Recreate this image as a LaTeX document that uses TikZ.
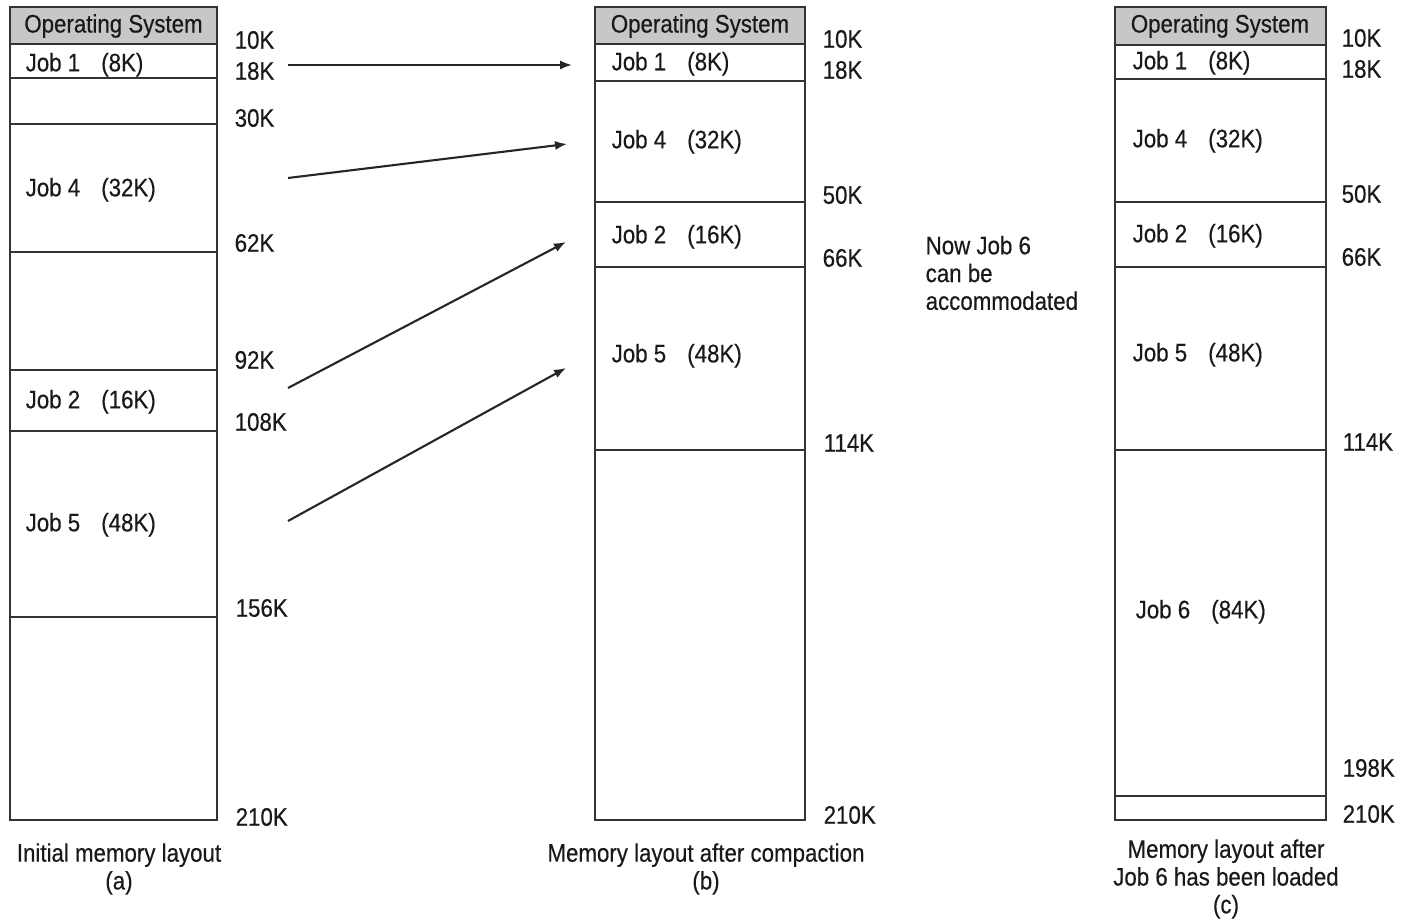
\documentclass[tikz,border=0pt]{standalone}
\usepackage{fontspec}
\setmainfont{Liberation Sans}[FakeStretch=0.88,FakeBold=0.4]
\usetikzlibrary{arrows.meta}
\begin{document}
\begin{tikzpicture}[x=0.01cm,y=-0.01cm,
  font=\fontsize{7.2}{7.9}\selectfont,
  memline/.style={draw=black!80, line width=0.6pt},
  osfill/.style={fill=black!22},
  addr/.style={anchor=west, inner sep=0pt, text=black!90},
  jobtxt/.style={anchor=west, inner sep=0pt, text=black!90, yshift=-0.5pt},
  captext/.style={align=center, inner sep=0pt, text=black!90},
  movearrow/.style={draw=black!85, line width=0.6pt, -{Latex[length=3.4pt,width=2.6pt]}}]
\useasboundingbox (0,0) rectangle (1402,919);
\newcommand{\jb}[2]{Job #1\hspace{6pt}(#2)}
% ---------- panel (a)
\fill[osfill] (10,7) rectangle (217,44);
\draw[memline] (10,7) rectangle (217,820);
\foreach \yy in {44,78,124,252,370,431,617} \draw[memline] (10,\yy) -- (217,\yy);
\node[captext] (aos) at (113.5,26) {Operating System};
\node[jobtxt] (aj1) at (25,63) {\jb{1}{8K}};
\node[jobtxt] (aj4) at (25,188) {\jb{4}{32K}};
\node[jobtxt] (aj2) at (25,400) {\jb{2}{16K}};
\node[jobtxt] (aj5) at (25,523) {\jb{5}{48K}};
\node[addr] (a10) at (234,40) {10K};
\node[addr] (a18) at (234,71) {18K};
\node[addr] (a30) at (234,118) {30K};
\node[addr] (a62) at (234,243) {62K};
\node[addr] (a92) at (234,360) {92K};
\node[addr] (a108) at (234,422) {108K};
\node[addr] (a156) at (235,608) {156K};
\node[addr] (a210) at (235,817) {210K};
\node[captext] (acap) at (119,869) {Initial memory layout\\(a)};
% ---------- panel (b)
\fill[osfill] (595,7) rectangle (805,44);
\draw[memline] (595,7) rectangle (805,820);
\foreach \yy in {44,81,202,267,450} \draw[memline] (595,\yy) -- (805,\yy);
\node[captext] (bos) at (700,26) {Operating System};
\node[jobtxt] (bj1) at (611,62) {\jb{1}{8K}};
\node[jobtxt] (bj4) at (611,140) {\jb{4}{32K}};
\node[jobtxt] (bj2) at (611,235) {\jb{2}{16K}};
\node[jobtxt] (bj5) at (611,354) {\jb{5}{48K}};
\node[addr] (b10) at (822,39) {10K};
\node[addr] (b18) at (822,70) {18K};
\node[addr] (b50) at (822,195) {50K};
\node[addr] (b66) at (822,258) {66K};
\node[addr] (b114) at (823,443) {114K};
\node[addr] (b210) at (823,815) {210K};
\node[captext] (bcap) at (706,869) {Memory layout after compaction\\(b)};
% ---------- panel (c)
\fill[osfill] (1115,7) rectangle (1326,45);
\draw[memline] (1115,7) rectangle (1326,820);
\foreach \yy in {45,79,202,267,450,796} \draw[memline] (1115,\yy) -- (1326,\yy);
\node[captext] (cos) at (1220,26) {Operating System};
\node[jobtxt] (cj1) at (1132,61) {\jb{1}{8K}};
\node[jobtxt] (cj4) at (1132,139) {\jb{4}{32K}};
\node[jobtxt] (cj2) at (1132,234) {\jb{2}{16K}};
\node[jobtxt] (cj5) at (1132,353) {\jb{5}{48K}};
\node[jobtxt] (cj6) at (1135,610) {\jb{6}{84K}};
\node[addr] (c10) at (1341,38) {10K};
\node[addr] (c18) at (1341,69) {18K};
\node[addr] (c50) at (1341,194) {50K};
\node[addr] (c66) at (1341,257) {66K};
\node[addr] (c114) at (1342,442) {114K};
\node[addr] (c198) at (1342,768) {198K};
\node[addr] (c210) at (1342,814) {210K};
\node[captext] (ccap) at (1226,879) {Memory layout after\\Job 6 has been loaded\\(c)};
% ---------- note
\node[anchor=west, align=left, inner sep=0pt, text=black!90] (note) at (925,273) {Now Job 6\\can be\\accommodated};
% ---------- arrows
\coordinate (s1) at (288,65);  \coordinate (e1) at (572,65);
\coordinate (s2) at (288,178); \coordinate (e2) at (567,144);
\coordinate (s3) at (288,388); \coordinate (e3) at (566,242);
\coordinate (s4) at (288,521); \coordinate (e4) at (566,368);
\draw[movearrow] (s1) -- (e1);
\draw[movearrow] (s2) -- (e2);
\draw[movearrow] (s3) -- (e3);
\draw[movearrow] (s4) -- (e4);
\end{tikzpicture}
\end{document}
